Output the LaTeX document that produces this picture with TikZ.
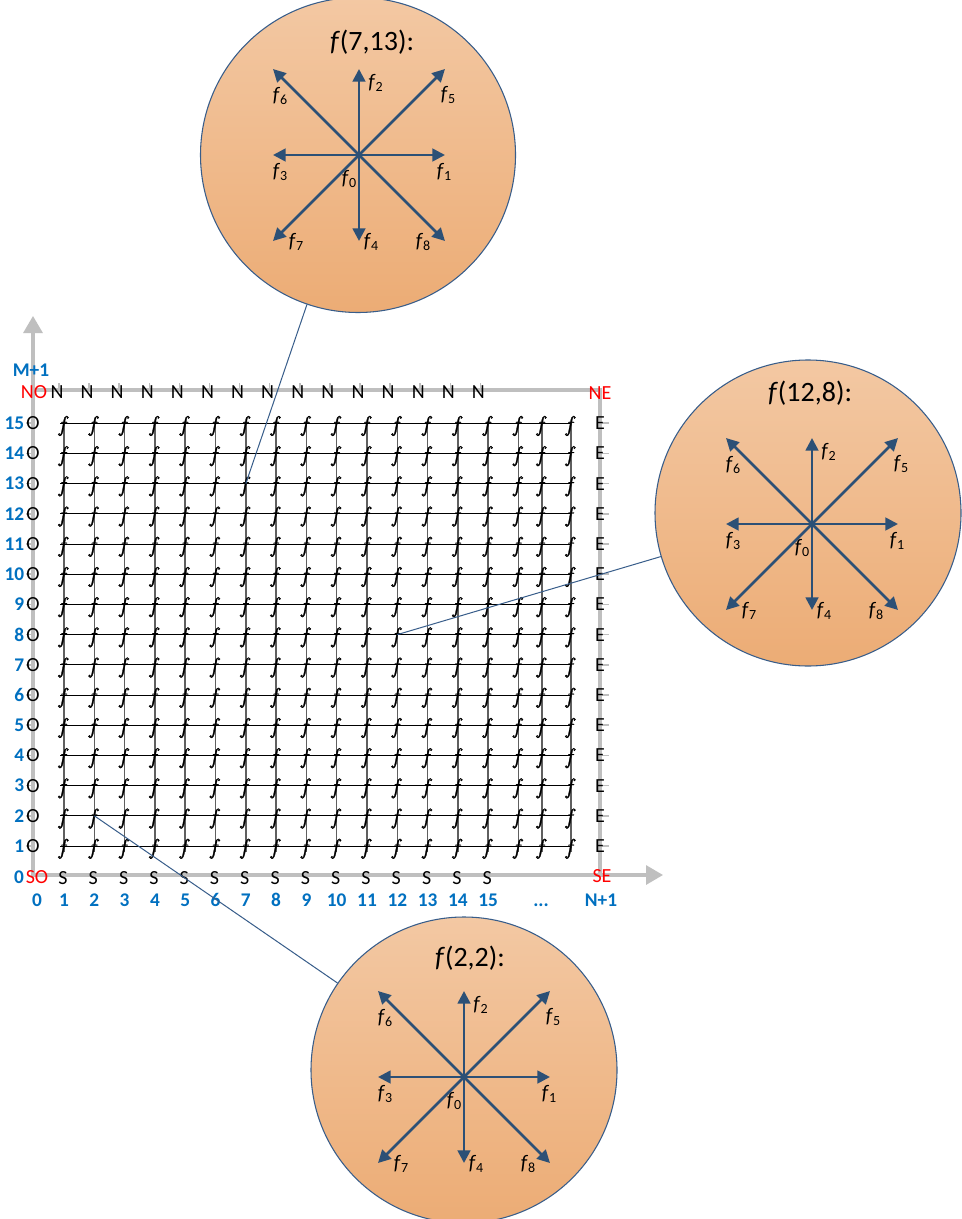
\documentclass[tikz,border=0pt]{standalone}
\usepackage{fontspec}
\setmainfont{Carlito}
\newfontfamily\cellfont{lmroman10-italic}[Extension=.otf,FakeBold=1.3]
\usetikzlibrary{arrows.meta}

\definecolor{axisgray}{RGB}{191,191,191}
\definecolor{gridline}{RGB}{95,95,95}
\definecolor{numblue}{RGB}{0,112,192}
\definecolor{cornerred}{RGB}{255,0,0}
\definecolor{roseblue}{RGB}{44,80,118}
\definecolor{rim}{RGB}{56,93,138}
\definecolor{peachtop}{RGB}{243,200,163}
\definecolor{peachbot}{RGB}{236,172,117}

% italic f with a lowered index
\newcommand\fsub[1]{\textit{f}\raisebox{-0.35ex}{\fontsize{10.5}{11}\selectfont#1}}
% lattice-cell symbol in Latin Modern italic
\newcommand\cellf{{\cellfont f}}

% eight-direction velocity rose: #1 prefix, #2/#3 centre
\newcommand\velrose[3]{%
  \begin{scope}[shift={(#2,#3)}]
    \coordinate (#1o) at (0,0);
    \foreach \n/\dx/\dy in {1/86/0,2/0/-86,3/-86/0,4/0/86,5/86/-86,6/-86/-86,7/-86/86,8/86/86}{
      \coordinate (#1e\n) at (\dx,\dy);
      \draw[vel] (#1o) -- (#1e\n);
    }
    \foreach \n/\lx/\ly in {0/-10/24,1/85/17,2/16.5/-72,3/-79/17,4/12/87,5/89/-60,6/-79/-59,7/-63/87,8/64/87}
      \node[flab] (#1f\n) at (\lx,\ly) {\fsub{\n}};
  \end{scope}}

\def\colx{64,94.3,124.6,154.9,185.2,215.5,245.8,276.1,306.4,336.7,367,397.3,427.6,457.9,488.2,518.5,542,571}

\begin{document}
\begin{tikzpicture}[x=0.75pt,y=-0.75pt,
  axisline/.style={draw=axisgray,line width=2.3pt},
  axtip/.style={-{Triangle[length=12.75pt,width=14.25pt]}},
  tickmark/.style={draw=axisgray,line width=1.1pt},
  hline/.style={draw=black,line width=0.75pt},
  vline/.style={draw=gridline,line width=1.1pt},
  fgl/.style={font=\fontsize{16.5}{16.5}\selectfont,inner sep=0pt,anchor=base},
  lbl/.style={font=\fontsize{15}{18}\selectfont,inner sep=0pt},
  cornerlbl/.style={lbl,text=cornerred},
  num/.style={font=\bfseries\fontsize{14.5}{16}\selectfont,text=numblue,inner sep=0pt},
  disc/.style={circle,draw=rim,line width=0.8pt,top color=peachtop,bottom color=peachbot,inner sep=0pt},
  vel/.style={draw=roseblue,line width=2pt,-{Triangle[length=9.5pt,width=9.5pt]}},
  flab/.style={font=\fontsize{15.5}{17}\selectfont,inner sep=0pt},
  ttl/.style={font=\fontsize{21}{24}\selectfont,inner sep=0pt},
  leader/.style={draw=rim,line width=0.75pt}]

\fill[white] (0,0) rectangle (962,1219);
\useasboundingbox (0,0) rectangle (962,1219);

% axes and domain boundary
\draw[axisline,axtip] (33,876) -- (33,316);
\draw[axisline,axtip] (32,875) -- (663,875);
\draw[axisline] (33,390) -- (600,390) -- (600,876);

% tick marks
\foreach \k in {0,...,14}
  \draw[tickmark] ({57+30.1*\k+2},383) -- ({57+30.1*\k+2},390);
\foreach \r in {1,...,15}{
  \draw[tickmark] (600,{846-30.2*(\r-1)}) -- (609,{846-30.2*(\r-1)});
  \draw[tickmark] (26,{846-30.2*(\r-1)}) -- (33,{846-30.2*(\r-1)});
}

% lattice points
\foreach \xx [count=\k] in \colx {
  \foreach \r in {1,...,15}{
    \coordinate (g-\k-\r) at (\xx,{846-30.2*(\r-1)});
  }
}

% lattice lines
\foreach \k in {1,...,18}
  \draw[vline] ([yshift=0.75pt]g-\k-15) -- ([yshift=-4.5pt]g-\k-1);
\foreach \r in {1,...,15}
  \draw[hline] ([xshift=-3pt]g-1-\r) -- (g-18-\r);

% distribution symbols at every node
\foreach \k in {1,...,18}{
  \foreach \r in {1,...,15}{
    \node[fgl] (f-\k-\r) at ([xshift=-1.5pt,yshift=-6.2pt]g-\k-\r) {\cellf};
  }
}

% boundary labels
\foreach \k in {1,...,15}
  \node[lbl] (N\k) at ({57+30.1*(\k-1)},392) {N};
\foreach \xx [count=\k] in \colx {
  \ifnum\k<16
    \node[lbl] (S\k) at (\xx-1,878) {S};
    \node[num,anchor=base] (bx\k) at (\xx,906) {\k};
  \fi
}
\foreach \r in {1,...,15}{
  \node[lbl] (E\r) at (600,{846-30.2*(\r-1)}) {E};
  \node[lbl] (O\r) at (33,{846-30.2*(\r-1)}) {O};
  \node[num,anchor=east] (ry\r) at (24.5,{846-30.2*(\r-1)}) {\r};
}

% corners and axis labels
\node[cornerlbl] (NO) at (34,392) {NO};
\node[cornerlbl] (NE) at (600,393) {NE};
\node[cornerlbl] (SO) at (37,877) {SO};
\node[cornerlbl] (SE) at (602,876) {SE};
\node[num] (ry0) at (19,877) {0};
\node[num,anchor=base] (bx0) at (37,906) {0};
\node[num,anchor=base] (bdots) at (541,906) {...};
\node[num,anchor=base] (bN) at (601,906) {N+1};
\node[num] (tM) at (31,370) {M+1};

% magnified cells
\node[disc,minimum size=236.25pt] (dA) at (358,155) {};
\node[disc,minimum size=229.5pt] (dB) at (808,513) {};
\node[disc,minimum size=229.5pt] (dC) at (464,1070) {};

\velrose{A}{359}{155}
\velrose{B}{812}{524}
\velrose{C}{464}{1077}

\node[ttl] (tA) at (372,42) {\textit{f}(7,13):};
\node[ttl] (tB) at (810,393) {\textit{f}(12,8):};
\node[ttl] (tC) at (470,958) {\textit{f}(2,2):};

% leaders from lattice nodes to their magnified views
\draw[leader] (g-7-13) -- (dA);
\draw[leader] (g-12-8) -- (dB);
\draw[leader] (g-2-2) -- (dC);

\end{tikzpicture}
\end{document}
